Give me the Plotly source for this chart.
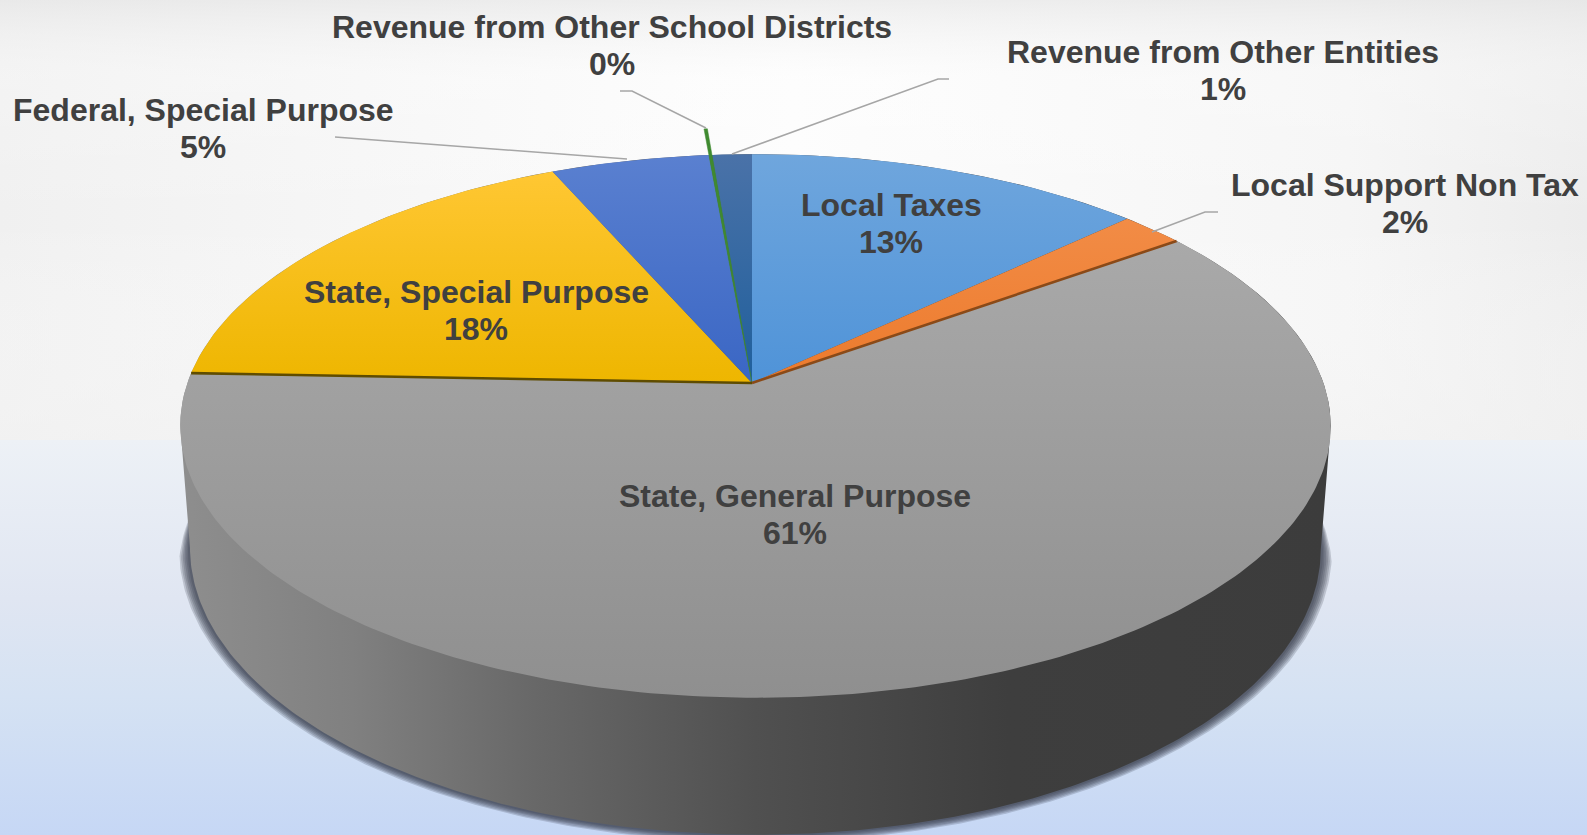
import math
import numpy as np
import plotly.graph_objects as go

# ---- data ----
categories = ["Local Taxes", "Local Support Non Tax", "State, General Purpose",
              "State, Special Purpose", "Federal, Special Purpose",
              "Revenue from Other School Districts", "Revenue from Other Entities"]
values = [13.0, 2.1, 60.5, 17.8, 5.2, 0.1, 1.3]

# ---- styles ----
face_top = ["#6fa6dd", "#f28c46", "#a9a9a9", "#ffc733", "#5a80d0", "#3f8a30", "#4a72a8"]
face_bot = ["#4f93d8", "#ec7a2c", "#8f8f8f", "#eeb600", "#3a66c4", "#3f8a30", "#1f5f9c"]
order = [0, 1, 2, 3, 4, 6, 5]
W, H = 1587, 835
CX, CY, A, B, C, K, KX, M = 752.0, 383.0, 568.0, 265.0, 123.0, 0.158, -0.006, 0.017
TXT = "#404040"
FONT = "Liberation Sans"
FS = 32
LINE = 18.5
label_pos = {0: (891, 223), 1: (1405, 203), 2: (795, 514), 3: (476, 310),
             4: (203, 128), 5: (612, 45), 6: (1223, 70)}
leaders = [([620, 632, 706], [91, 91, 128]),
           ([949, 938, 732], [79, 79, 154]),
           ([335, 627], [137, 159]),
           ([1218, 1205, 1152], [212, 212, 232])]


def project(frac, r=1.0, z=0.0):
    th = 2 * np.pi * np.asarray(frac, dtype=float)
    u, v = r * np.sin(th), r * np.cos(th)
    w = 1 + K * v + KX * u - M * z
    return CX + A * u / w, CY - (B * v + C * z) / w


def top_down(stops):
    """Vertical fill gradients run bottom-to-top on this reversed axis."""
    return [[1 - p, c] for p, c in reversed(stops)]


fig = go.Figure()


def rect(x0, x1, y0, y1, kind, scale):
    fig.add_trace(go.Scatter(x=[x0, x1, x1, x0, x0], y=[y0, y0, y1, y1, y0], mode="lines",
                             line=dict(width=0), fill="toself", hoverinfo="skip",
                             fillgradient=dict(type=kind, colorscale=scale), showlegend=False))


# background
rect(0, W, 0, 440, "horizontal", [[0, "#f0f0f0"], [0.15, "#f4f4f4"], [0.5, "#fdfdfd"],
                                  [0.85, "#f5f5f5"], [1, "#ececec"]])
rect(0, W, 0, 440, "vertical", top_down([[0, "rgba(228,228,228,0.6)"], [0.18, "rgba(255,255,255,0.25)"],
                                         [0.5, "rgba(255,255,255,0)"], [1, "rgba(242,242,242,0.6)"]]))
rect(0, W, 440, H, "vertical", top_down([[0, "#edf1f6"], [0.4, "#e0e6f2"], [0.65, "#d5e2f3"], [1, "#c6d7f5"]]))

# soft shadow under the disc, tapering out where the wall meets the rim
front = np.linspace(0.275, 0.725, 240)
shadow_f = np.linspace(0.245, 0.755, 300)
taper = np.clip(np.minimum(shadow_f - 0.245, 0.755 - shadow_f) / 0.035, 0, 1)
for extra in (0.019, 0.016, 0.013, 0.010, 0.007, 0.004):
    sx, sy = project(shadow_f, r=1 + extra * taper, z=-1.0)
    fig.add_trace(go.Scatter(x=sx, y=sy, mode="lines", line=dict(width=0), fill="toself",
                             fillcolor="rgba(45,50,65,0.2)", hoverinfo="skip", showlegend=False))

# side wall
bx, by = project(front, z=-1.0)
tf = np.linspace(0.725, 1.275, 120)
tx, ty = project(tf)
wall_x = np.concatenate([bx, tx])
wall_y = np.concatenate([by, ty])
fig.add_trace(go.Scatter(x=wall_x, y=wall_y, mode="lines", line=dict(width=0), fill="toself",
                         fillgradient=dict(type="horizontal", colorscale=[
                             [0, "#8e8e8e"], [0.15, "#808080"], [0.3, "#696969"], [0.5, "#505050"],
                             [0.72, "#3e3e3e"], [1, "#3c3c3c"]]),
                         hoverinfo="skip", showlegend=False))

# top faces
edges = np.concatenate([[0], np.cumsum(values)]) / sum(values)
for i in order:
    r = 1.135 if i == 5 else 1.0
    fr = np.linspace(edges[i], edges[i + 1], max(3, int(400 * (edges[i + 1] - edges[i]))))
    x, y = project(fr, r=r)
    px = np.concatenate([[CX], x, [CX]])
    py = np.concatenate([[CY], y, [CY]])
    fig.add_trace(go.Scatter(x=px, y=py, mode="lines", name=categories[i],
                             line=dict(width=0.5 if i == 5 else 0, color=face_top[i]),
                             fill="toself",
                             fillgradient=dict(type="vertical",
                                               colorscale=top_down([[0, face_top[i]], [1, face_bot[i]]])),
                             hoverinfo="skip", showlegend=False))

# dark cut edges below the orange and yellow slices
for idx, col in ((2, "#8a4a18"), (3, "#5f4c00")):
    ex, ey = project(np.array([edges[idx]]))
    fig.add_trace(go.Scatter(x=[CX, ex[0]], y=[CY, ey[0]], mode="lines",
                             line=dict(color=col, width=2.6), hoverinfo="skip", showlegend=False))

# leader lines
for lx, ly in leaders:
    fig.add_trace(go.Scatter(x=lx, y=ly, mode="lines", line=dict(color="#a6a6a6", width=1.5),
                             hoverinfo="skip", showlegend=False))

# labels
annotations = []
for i, name in enumerate(categories):
    pct = math.floor(values[i] / sum(values) * 100 + 0.5)
    for text, dy in ((name, -LINE), (f"{pct}%", LINE)):
        annotations.append(dict(x=label_pos[i][0], y=label_pos[i][1] + dy, xref="x", yref="y",
                                text=f"<b>{text}</b>", showarrow=False, align="center",
                                xanchor="center", yanchor="middle",
                                font=dict(family=FONT, size=FS, color=TXT)))

fig.update_layout(width=W, height=H, margin=dict(l=0, r=0, t=0, b=0),
                  paper_bgcolor="white", plot_bgcolor="white", annotations=annotations,
                  xaxis=dict(range=[0, W], visible=False, fixedrange=True),
                  yaxis=dict(range=[H, 0], visible=False, fixedrange=True))

fig.write_html("out.html", config=dict(displayModeBar=False),
               post_script="document.body.style.margin='0';document.body.style.overflow='hidden';")
